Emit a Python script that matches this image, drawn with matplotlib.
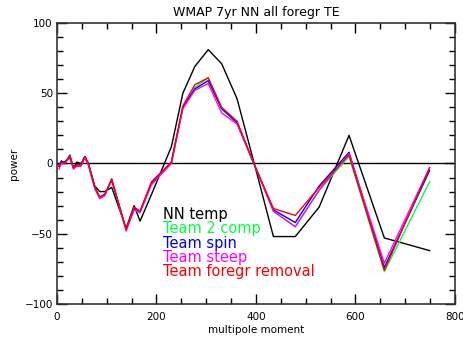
import numpy as np
import matplotlib
matplotlib.use('Agg')
import matplotlib.pyplot as plt
from matplotlib.ticker import MultipleLocator

# multipole bin centres
ell = [4, 9, 15, 26, 33, 40, 48, 56, 63, 76, 86, 96, 110, 139, 155, 167, 190,
       230, 253, 277, 304, 331, 362, 398, 435, 479, 527, 587, 658, 749]

# TE power for each method
nn_temp = [-1, 1, 1, 4, -3, 1, 0, 4, 0, -16, -20, -20, -17, -46, -30, -41, -22,
           12, 50, 69, 81, 71, 46, -2, -52, -52, -31, 20, -53, -62]
team_2comp = [-2, 1, 0, 5, -3, -1, -1, 5, 0, -17, -24, -22, -12, -47, -32, -34, -14,
              1, 40, 54, 61, 39, 29, -2, -34, -45, -19, 5, -77, -13]
team_spin = [-2, 2, 0, 6, -3, -1, -1, 5, 0, -17, -24, -22, -12, -47, -32, -34, -14,
             1, 40, 53, 59, 39, 29, -2, -33, -42, -16, 8, -74, -5]
team_steep = [-4, 0, 0, 5, -4, -2, -2, 4, -1, -18, -25, -23, -11, -48, -33, -35, -15,
              0, 39, 52, 57, 36, 28, -2, -34, -45, -19, 7, -71, -3]
team_foregr = [-2, 1, 0, 5, -3, -1, -1, 5, 0, -17, -24, -22, -11, -47, -31, -34, -13,
               1, 41, 56, 61, 40, 30, -2, -32, -37, -17, 6, -76, -3]

names = ['NN temp', 'Team 2 comp', 'Team spin', 'Team steep', 'Team foregr removal']
series = [nn_temp, team_2comp, team_spin, team_steep, team_foregr]
colors = ['black', '#00ff40', '#0000ff', '#ff00ff', '#ff0000']

fig = plt.figure(figsize=(4.64, 3.41), dpi=100)
ax = fig.add_axes([0.1228, 0.1085, 0.8578, 0.8241])

ax.axhline(0, color='black', lw=1.0)
for s, c in zip(series, colors):
    ax.plot(ell, s, color=c, lw=1.0)

ax.set_xlim(0, 800)
ax.set_ylim(-100, 100)
ax.xaxis.set_major_locator(MultipleLocator(200))
ax.xaxis.set_minor_locator(MultipleLocator(50))
ax.yaxis.set_major_locator(MultipleLocator(50))
ax.yaxis.set_minor_locator(MultipleLocator(10))
ax.tick_params(which='both', direction='in', top=True, right=True,
               labelsize=7.5, width=1.0)
ax.tick_params(which='major', length=7)
ax.tick_params(which='minor', length=4)
ax.tick_params(axis='x', pad=6)
ax.tick_params(axis='y', pad=3)
for sp in ax.spines.values():
    sp.set_linewidth(1.2)
    sp.set_color('#333333')

ax.set_title('WMAP 7yr NN all foregr TE', fontsize=9, pad=5)
ax.set_xlabel('multipole moment', fontsize=7.5, labelpad=2)
ax.set_ylabel('power', fontsize=7.5, labelpad=4)

# legend as plain coloured text
for i, (n, c) in enumerate(zip(names, colors)):
    ax.text(0.266, 0.318 - i * 0.0505, n, color=c, fontsize=10.5,
            transform=ax.transAxes, va='center', ha='left')

fig.savefig('out.png', dpi=100)
